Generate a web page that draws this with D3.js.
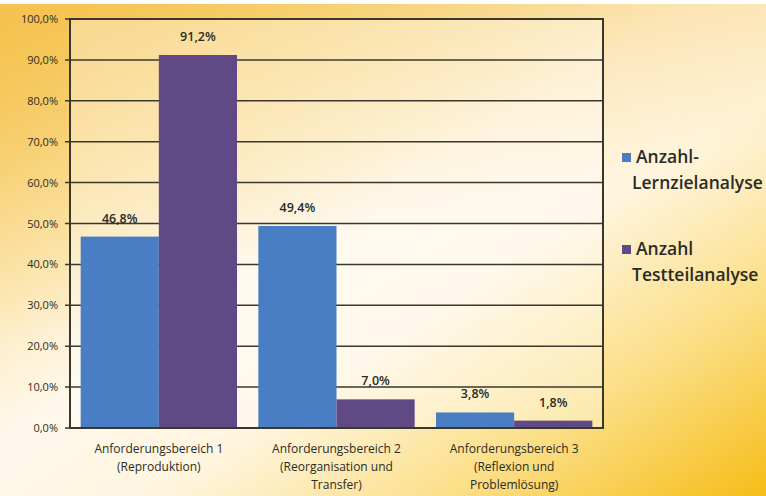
<!doctype html>
<meta charset="utf-8">
<title>Anforderungsbereiche</title>
<script src="https://cdn.jsdelivr.net/npm/d3@7"></script>
<style>
body { margin: 0; }
svg text { font-family: "Open Sans", sans-serif; fill: #2b2b24; }
</style>
<svg id="chart" width="766" height="496"></svg>
<script>
var categories = [
  ["Anforderungsbereich 1", "(Reproduktion)"],
  ["Anforderungsbereich 2", "(Reorganisation und", "Transfer)"],
  ["Anforderungsbereich 3", "(Reflexion und", "Problemlösung)"]
];
var seriesNames = [["Anzahl-", "Lernzielanalyse"], ["Anzahl", "Testteilanalyse"]];
var lernziel = [46.8, 49.4, 3.8];
var testteil = [91.2, 7.0, 1.8];
var yTicks = [0, 10, 20, 30, 40, 50, 60, 70, 80, 90, 100];
var colors = ["#4a7ec4", "#604a86"];

var svg = d3.select("#chart");
var W = 766, H = 496;
var plot = {left: 70, right: 603, top: 19, bottom: 428};

// background: diagonal gold -> cream -> gold, plus a gold wash on the left
var defs = svg.append("defs");
var bg = defs.append("linearGradient").attr("id", "bg")
  .attr("x1", 0).attr("y1", 0).attr("x2", 1).attr("y2", 1);
[[0, "#f4c04a"], [0.22, "#fbe4a8"], [0.45, "#fff8ec"], [0.6, "#fff5df"],
 [0.8, "#fbde84"], [1, "#f6bd18"]].forEach(function(s) {
  bg.append("stop").attr("offset", s[0]).attr("stop-color", s[1]);
});
var wash = defs.append("linearGradient").attr("id", "wash")
  .attr("x1", 0).attr("y1", 0).attr("x2", 0.25).attr("y2", 0.6);
wash.append("stop").attr("offset", 0).attr("stop-color", "#f5c24e").attr("stop-opacity", 0.8);
wash.append("stop").attr("offset", 1).attr("stop-color", "#f5c24e").attr("stop-opacity", 0);
svg.append("rect").attr("width", W).attr("height", H).attr("fill", "url(#bg)");
svg.append("rect").attr("width", W).attr("height", H).attr("fill", "url(#wash)");
svg.append("rect").attr("width", W).attr("height", 4).attr("fill", "#fff");

var x0 = d3.scaleBand().domain(d3.range(categories.length))
  .range([plot.left, plot.right]).paddingInner(0.12).paddingOuter(0.06);
var x1 = d3.scaleBand().domain([0, 1]).range([0, x0.bandwidth()]);
var y = d3.scaleLinear().domain([0, 100]).range([plot.bottom, plot.top]);

svg.append("rect")
  .attr("x", plot.left).attr("y", plot.top)
  .attr("width", plot.right - plot.left).attr("height", plot.bottom - plot.top)
  .attr("fill", "#fff").attr("fill-opacity", 0.35);

// gridlines
svg.append("g").selectAll("line").data(yTicks).join("line")
  .attr("x1", plot.left - 5).attr("x2", plot.right)
  .attr("y1", function(d) { return y(d); }).attr("y2", function(d) { return y(d); })
  .attr("stroke", "#3a382c").attr("stroke-width", 1.5);

// y axis labels
var fmt = function(d) { return d.toFixed(1).replace(".", ",") + "%"; };
svg.append("g").selectAll("text").data(yTicks).join("text")
  .attr("x", 58).attr("y", function(d) { return y(d) + 4; })
  .attr("text-anchor", "end").style("font-size", "11px").style("font-weight", 500)
  .text(fmt);

// bars
var series = [lernziel, testteil];
series.forEach(function(vals, si) {
  var g = svg.append("g");
  g.selectAll("rect").data(vals).join("rect")
    .attr("x", function(d, i) { return x0(i) + x1(si); })
    .attr("y", function(d) { return y(d); })
    .attr("width", x1.bandwidth())
    .attr("height", function(d) { return y(0) - y(d); })
    .attr("fill", colors[si]);
  g.selectAll("text").data(vals).join("text")
    .attr("x", function(d, i) { return x0(i) + x1(si) + x1.bandwidth() / 2; })
    .attr("y", function(d) { return y(d) - 14; })
    .attr("text-anchor", "middle").style("font-size", "12.5px").style("font-weight", 600)
    .text(fmt);
});

// plot frame
svg.append("rect")
  .attr("x", plot.left).attr("y", plot.top)
  .attr("width", plot.right - plot.left).attr("height", plot.bottom - plot.top)
  .attr("fill", "none").attr("stroke", "#3a382c").attr("stroke-width", 2);

// category labels
categories.forEach(function(lines, i) {
  var t = svg.append("text")
    .attr("x", x0(i) + x0.bandwidth() / 2).attr("y", 453)
    .attr("text-anchor", "middle").style("font-size", "12px").style("font-weight", 500);
  lines.forEach(function(l, k) {
    t.append("tspan").attr("x", x0(i) + x0.bandwidth() / 2)
      .attr("dy", k === 0 ? 0 : 18).text(l);
  });
});

// legend
var legendY = [163, 255];
seriesNames.forEach(function(names, si) {
  var ly = legendY[si];
  svg.append("rect").attr("x", 622).attr("y", ly - 10)
    .attr("width", 9).attr("height", 9).attr("fill", colors[si]);
  var t = svg.append("text").attr("x", 636).attr("y", ly)
    .style("font-size", "17.5px").style("font-weight", 600);
  names.forEach(function(n, k) {
    t.append("tspan").attr("x", k === 0 ? 636 : 632).attr("dy", k === 0 ? 0 : 26).text(n);
  });
});
</script>
